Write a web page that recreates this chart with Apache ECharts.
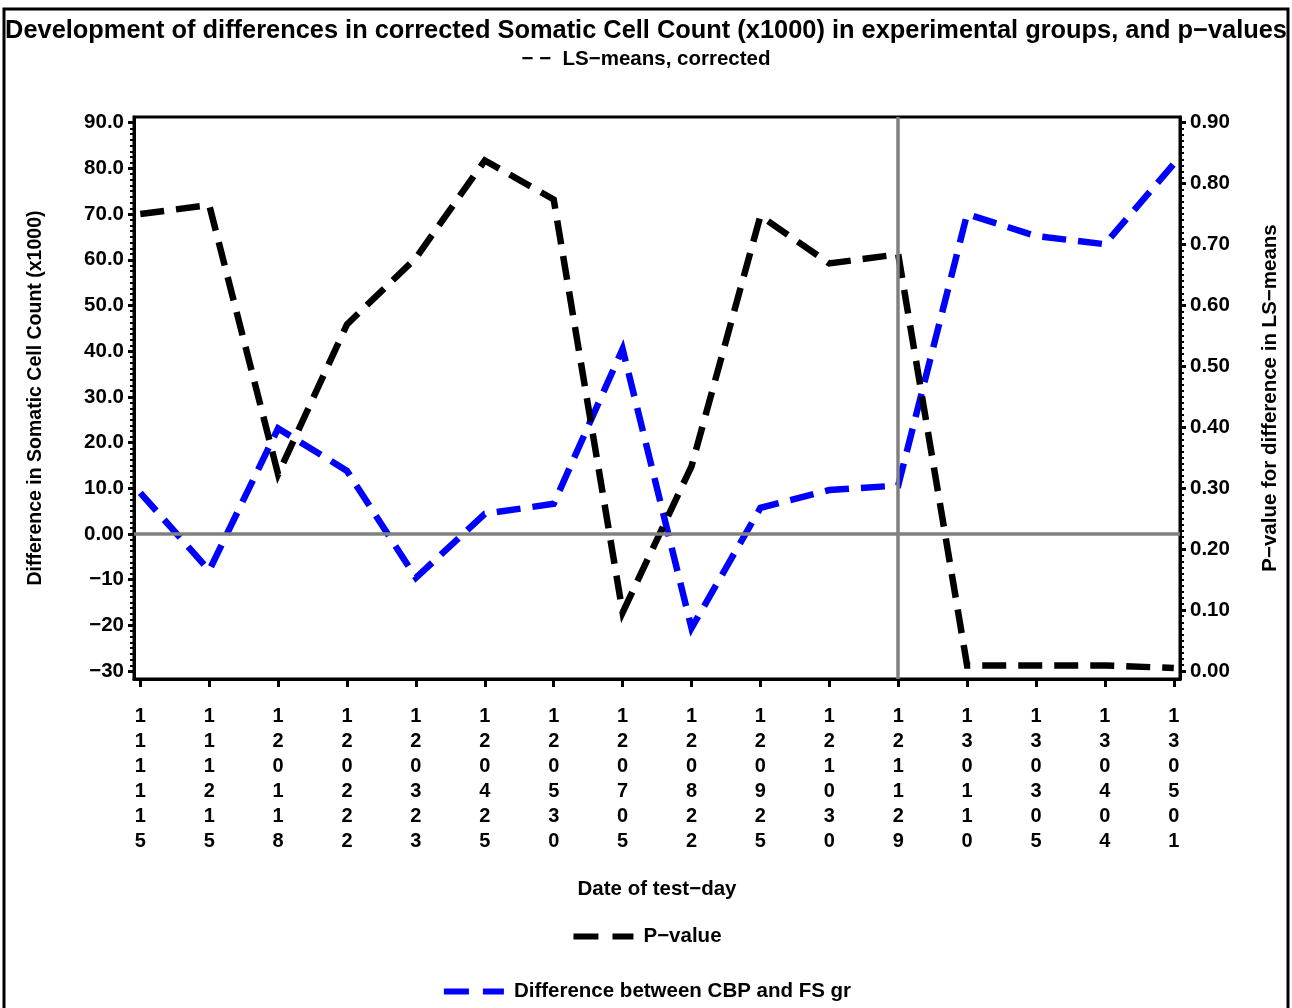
<!DOCTYPE html>
<html><head><meta charset="utf-8">
<script src="https://cdn.jsdelivr.net/npm/echarts@6/dist/echarts.min.js"></script>
<style>html,body{margin:0;padding:0;background:#fff}#c{width:1292px;height:1008px}</style>
</head><body><div id="c"></div>
<script>
// ---- data ----
const testDates = ['111115','111215','120118','120222','120323','120425','120530','120705','120822','120925','121030','121129','130110','130305','130404','130501'];
const diffValues = [9.0, -8.0, 23.1, 13.8, -9.6, 4.4, 6.6, 40.5, -20.6, 5.7, 9.6, 10.6, 70.0, 65.2, 63.4, 81.0];
const pValues = [0.750, 0.765, 0.323, 0.569, 0.678, 0.838, 0.774, 0.096, 0.336, 0.747, 0.669, 0.684, 0.009, 0.009, 0.009, 0.005];
const leftTicks = [-30, -20, -10, 0, 10, 20, 30, 40, 50, 60, 70, 80, 90];
const rightTicks = [0, 0.1, 0.2, 0.3, 0.4, 0.5, 0.6, 0.7, 0.8, 0.9];
const refDateIndex = 11;
const refDiff = 0;

// ---- helpers ----
const FONT = "'Liberation Sans', Arial, sans-serif";
const xIdx = testDates.map((d, i) => i);
const leftMinor = [];
for (let k = 0; k <= 96; k++) leftMinor.push(-30 + k * 1.25);
const rightMinor = [];
for (let k = 0; k <= 90; k++) rightMinor.push(+(k * 0.01).toFixed(2));

const L_MIN = -31.75, L_MAX = 91.25;
const R_MIN = (L_MIN + 30) * 0.0075, R_MAX = (L_MAX + 30) * 0.0075;

function leftFmt(v) {
  if (Math.abs(v) < 1e-9) return '0.00';
  if (v > 0) return v.toFixed(1);
  return '\u2212' + Math.abs(v).toFixed(0);
}

const chart = echarts.init(document.getElementById('c'), null, {renderer: 'canvas'});
const legendText = {fontFamily: FONT, fontWeight: 'bold', fontSize: 20.5, color: '#000', padding: [0, 0, 0, 5]};
const option = {
  backgroundColor: '#fff',
  animation: false,
  textStyle: {fontFamily: FONT},
  graphic: [{
    type: 'rect', shape: {x: 4, y: 9, width: 1284, height: 1010},
    style: {fill: 'none', stroke: '#000', lineWidth: 3}, silent: true, z: 0
  }],
  title: [{
    text: 'Development of differences in corrected Somatic Cell Count (x1000) in experimental groups, and p\u2212values',
    left: 'center', top: 18, padding: 0,
    textStyle: {fontFamily: FONT, fontWeight: 'bold', fontSize: 25.4, color: '#000'}
  }, {
    text: '\u2212 \u2212  LS\u2212means, corrected',
    left: 'center', top: 49, padding: 0,
    textStyle: {fontFamily: FONT, fontWeight: 'bold', fontSize: 20.5, color: '#000'}
  }],
  legend: [{
    data: ['P\u2212value'], left: 'center', top: 921, itemWidth: 60, itemHeight: 12,
    textStyle: legendText,
    lineStyle: {width: 6, type: [25, 14], cap: 'butt'}, itemStyle: {opacity: 0}
  }, {
    data: ['Difference between CBP and FS gr'], left: 'center', top: 976, itemWidth: 60, itemHeight: 12,
    textStyle: legendText,
    lineStyle: {width: 6, type: [25, 14], cap: 'butt'}, itemStyle: {opacity: 0}
  }],
  grid: {left: 134, right: 112, top: 117, bottom: 329, show: true, borderColor: '#000', borderWidth: 3, backgroundColor: '#fff'},
  xAxis: [{
    type: 'value', min: -0.0914, max: 15.09,
    name: 'Date of test\u2212day', nameLocation: 'middle', nameGap: 200,
    nameTextStyle: {fontFamily: FONT, fontWeight: 'bold', fontSize: 20.5, color: '#000'},
    axisLine: {show: true, onZero: false, lineStyle: {color: '#000', width: 3}},
    axisTick: {show: true, length: 8, customValues: xIdx, lineStyle: {color: '#000', width: 3}},
    axisLabel: {
      customValues: xIdx, margin: 25, lineHeight: 25,
      fontFamily: FONT, fontWeight: 'bold', fontSize: 20, color: '#000',
      formatter: v => testDates[Math.round(v)].split('').join('\n')
    },
    splitLine: {show: false}
  }],
  yAxis: [{
    type: 'value', position: 'left', min: L_MIN, max: L_MAX,
    name: 'Difference in Somatic Cell Count (x1000)', nameLocation: 'middle', nameRotate: 90, nameGap: 88,
    nameTextStyle: {fontFamily: FONT, fontWeight: 'bold', fontSize: 19.5, color: '#000'},
    axisLine: {show: true, onZero: false, lineStyle: {color: '#000', width: 3}},
    axisTick: {show: true, inside: false, length: 6, customValues: leftTicks, lineStyle: {color: '#000', width: 3}},
    axisLabel: {customValues: leftTicks, margin: 10, fontFamily: FONT, fontWeight: 'bold', fontSize: 20.5, color: '#000', formatter: leftFmt},
    splitLine: {show: false}
  }, {
    type: 'value', position: 'right', min: R_MIN, max: R_MAX,
    name: 'P\u2212value for difference in LS\u2212means', nameLocation: 'middle', nameRotate: 90, nameGap: 80,
    nameTextStyle: {fontFamily: FONT, fontWeight: 'bold', fontSize: 20.5, color: '#000'},
    axisLine: {show: true, onZero: false, lineStyle: {color: '#000', width: 3}},
    axisTick: {show: true, inside: false, length: 6, customValues: rightTicks, lineStyle: {color: '#000', width: 3}},
    axisLabel: {customValues: rightTicks, margin: 10, fontFamily: FONT, fontWeight: 'bold', fontSize: 20.5, color: '#000', formatter: v => v.toFixed(2)},
    splitLine: {show: false}
  }, {
    type: 'value', position: 'left', offset: 0, min: L_MIN, max: L_MAX,
    axisLine: {show: false, onZero: false}, axisLabel: {show: false}, splitLine: {show: false},
    axisTick: {show: true, inside: false, length: 4, customValues: leftMinor, lineStyle: {color: '#000', width: 2}}
  }, {
    type: 'value', position: 'right', offset: 0, min: R_MIN, max: R_MAX,
    axisLine: {show: false, onZero: false}, axisLabel: {show: false}, splitLine: {show: false},
    axisTick: {show: true, inside: false, length: 4, customValues: rightMinor, lineStyle: {color: '#000', width: 2}}
  }],
  series: [{
    name: 'ref', type: 'line', xAxisIndex: 0, yAxisIndex: 0, data: [], z: 1, silent: true,
    markLine: {
      silent: true, symbol: 'none', label: {show: false},
      lineStyle: {color: '#808080', width: 3.5, type: 'solid'},
      data: [{yAxis: refDiff}, {xAxis: refDateIndex}]
    }
  }, {
    name: 'P\u2212value', type: 'line', xAxisIndex: 0, yAxisIndex: 1, z: 3,
    data: xIdx.map(i => [i, pValues[i]]),
    symbol: 'none', color: '#000',
    lineStyle: {color: '#000', width: 6.5, type: [24, 12], cap: 'butt', join: 'miter'}
  }, {
    name: 'Difference between CBP and FS gr', type: 'line', xAxisIndex: 0, yAxisIndex: 0, z: 2,
    data: xIdx.map(i => [i, diffValues[i]]),
    symbol: 'none', color: '#0000ff',
    lineStyle: {color: '#0000ff', width: 6.5, type: [24, 12], cap: 'butt', join: 'miter'}
  }]
};
chart.setOption(option);
</script>
</body></html>
